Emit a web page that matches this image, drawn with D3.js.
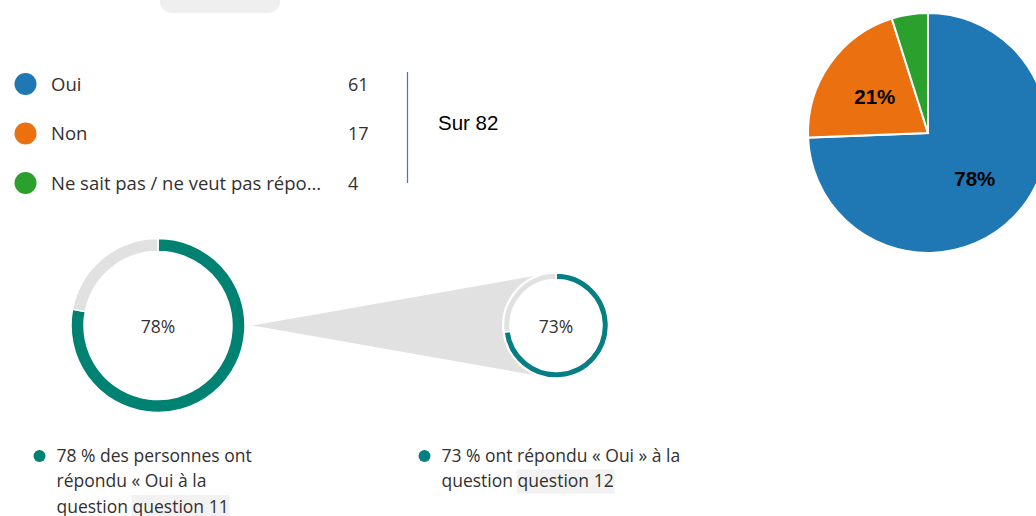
<!DOCTYPE html>
<html lang="fr">
<head>
    <meta charset="UTF-8">
    <title>Réponses</title>
    <script src="https://d3js.org/d3.v7.min.js"></script>
    <style>
        body { margin: 0; background: #fff; }
        svg { display: block; }
    </style>
</head>
<body>
<script>
    // Data
    const pieLabels = ["Oui", "Non", "Ne sait pas / ne veut pas répondre"];
    const pieCounts = [61, 17, 4];
    const pieColors = ["#1f77b4", "#ea7010", "#2ca02c"];
    const pieLabelText = ["78%", "21%", ""];
    const totalText = "Sur 82";

    const donutValues = [78, 73];
    const donutColors = ["#008272", "#067f84"];
    const captionLines = [
        ["78 % des personnes ont", "répondu « Oui à la", "question question 11"],
        ["73 % ont répondu « Oui » à la", "question question 12"]
    ];
    const captionHighlight = ["question 11", "question 12"];

    const width = 1036, height = 516;
    const font = "'Open Sans', 'Segoe UI', sans-serif";
    const textColor = "#323130";

    const svg = d3.select("body").append("svg")
        .attr("width", width)
        .attr("height", height);

    // button remnant at the top
    svg.append("rect")
        .attr("x", 160).attr("y", -30)
        .attr("width", 120).attr("height", 43)
        .attr("rx", 12)
        .attr("fill", "#efefef");

    // Legend
    const legend = svg.append("g").attr("transform", "translate(0,84)");
    const rowY = d3.scalePoint().domain(pieLabels).range([0, 99]);
    const rows = legend.selectAll("g.row")
        .data(pieLabels)
        .join("g")
        .attr("class", "row")
        .attr("transform", d => `translate(0,${rowY(d)})`);
    rows.append("circle")
        .attr("cx", 25.5).attr("cy", 0).attr("r", 11)
        .attr("fill", (d, i) => pieColors[i]);
    rows.append("text")
        .attr("x", 51).attr("y", 6.5)
        .attr("font-family", font).attr("font-size", 18.5)
        .attr("fill", textColor)
        .text(d => d.length > 30 ? d.slice(0, 30) + "..." : d);
    rows.append("text")
        .attr("x", 348).attr("y", 6.5)
        .attr("font-family", font).attr("font-size", 18)
        .attr("fill", textColor)
        .text((d, i) => pieCounts[i]);

    svg.append("line")
        .attr("x1", 407.5).attr("x2", 407.5)
        .attr("y1", 72).attr("y2", 183)
        .attr("stroke", "#4472c4").attr("stroke-width", 1.2);
    svg.append("text")
        .attr("x", 438).attr("y", 130)
        .attr("font-family", "Arial, 'Liberation Sans', sans-serif")
        .attr("font-size", 20.5)
        .attr("fill", "#000")
        .text(totalText);

    // Pie chart
    const pieR = 120;
    const pieG = svg.append("g").attr("transform", "translate(928,133)");
    const pie = d3.pie().sort(null).value(d => d)(pieCounts);
    const arc = d3.arc().innerRadius(0).outerRadius(pieR);
    const labelArc = d3.arc().innerRadius(0).outerRadius(130);
    pieG.selectAll("path")
        .data(pie)
        .join("path")
        .attr("d", arc)
        .attr("fill", (d, i) => pieColors[i])
        .attr("stroke", "#fff")
        .attr("stroke-width", 2);
    pieG.selectAll("text")
        .data(pie)
        .join("text")
        .attr("transform", d => `translate(${labelArc.centroid(d)})`)
        .attr("text-anchor", "middle")
        .attr("dy", "0.36em")
        .attr("y", 1)
        .attr("font-family", "Arial, 'Liberation Sans', sans-serif")
        .attr("font-weight", "bold")
        .attr("font-size", 20.5)
        .attr("fill", "#000")
        .text((d, i) => pieLabelText[i]);

    // Donuts with connecting funnel
    const donuts = [
        {cx: 158, cy: 325.5, r: 87, thick: 13},
        {cx: 556, cy: 325.5, r: 52.5, thick: 6.5}
    ];

    // funnel: from the right of donut 1 to the tangents of donut 2
    const apex = [donuts[0].cx + donuts[0].r + 7, donuts[0].cy];
    const dx = donuts[1].cx - apex[0];
    const th = Math.acos(donuts[1].r / dx);
    const tx = donuts[1].cx - donuts[1].r * Math.cos(th);
    const ty = donuts[1].r * Math.sin(th);
    svg.append("path")
        .attr("d", d3.line()([apex, [tx, donuts[1].cy - ty], [tx, donuts[1].cy + ty]]) + "Z")
        .attr("fill", "#e1e1e1");

    const donutPie = d3.pie().sort(null).value(d => d);
    donuts.forEach((dn, k) => {
        const g = svg.append("g").attr("transform", `translate(${dn.cx},${dn.cy})`);
        g.append("circle").attr("r", dn.r + 1.5).attr("fill", "#fff");
        const a = d3.arc().innerRadius(dn.r - dn.thick).outerRadius(dn.r);
        g.selectAll("path")
            .data(donutPie([donutValues[k], 100 - donutValues[k]]))
            .join("path")
            .attr("d", a)
            .attr("fill", (d, i) => i === 0 ? donutColors[k] : "#e1e1e1")
            .attr("stroke", "#fff")
            .attr("stroke-width", 1.5);
        g.append("text")
            .attr("text-anchor", "middle")
            .attr("dy", "0.36em")
            .attr("y", 1)
            .attr("font-family", font)
            .attr("font-size", 17.5)
            .attr("fill", "#333")
            .text(donutValues[k] + "%");
    });

    // Captions under the donuts
    const captionX = [39.5, 424.5];
    captionLines.forEach((lines, k) => {
        const g = svg.append("g").attr("transform", `translate(${captionX[k]},456)`);
        g.append("circle").attr("r", 6).attr("fill", donutColors[k]);
        lines.forEach((line, j) => {
            const y = j * 25.5;
            const t = g.append("text")
                .attr("x", 17).attr("y", y + 5.5)
                .attr("font-family", font).attr("font-size", 17.5)
                .attr("fill", textColor)
                .text(line);
            const hi = line.indexOf(captionHighlight[k]);
            if (hi >= 0) {
                const node = t.node();
                const x0 = hi > 0 ? node.getSubStringLength(0, hi) : 0;
                const w = node.getSubStringLength(hi, captionHighlight[k].length);
                g.insert("rect", "text")
                    .attr("x", 17 + x0 - 1).attr("y", y - 12)
                    .attr("width", w + 2).attr("height", 24)
                    .attr("fill", "#f2f2f2");
            }
        });
    });
</script>
</body>
</html>
